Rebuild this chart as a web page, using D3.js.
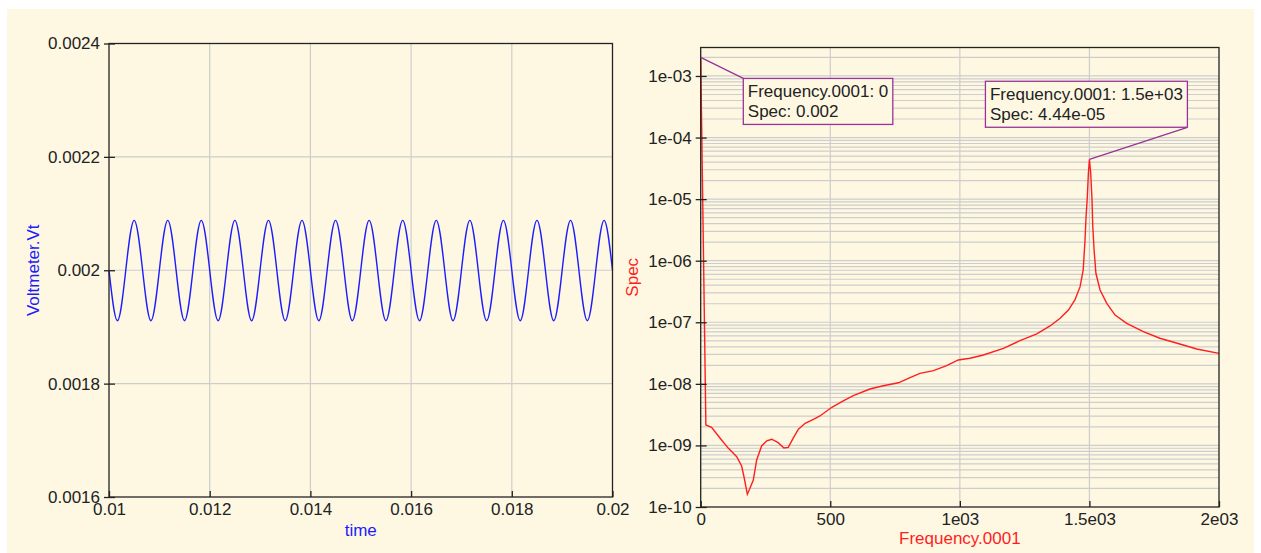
<!DOCTYPE html>
<html>
<head>
<meta charset="utf-8">
<script src="https://cdn.jsdelivr.net/npm/d3@7"></script>
<style>
body { margin: 0; background: #ffffff; }
svg text { font-family: "Liberation Sans", Arial, sans-serif; }
</style>
</head>
<body>
<div id="container"></div>
<script>
console.log('[START SEQ]')

// --- left panel : Voltmeter.Vt against time (quarter-period samples)
var time_s = [
  0.01, 0.010167, 0.010333, 0.0105,
  0.010667, 0.010833, 0.011, 0.011167,
  0.011333, 0.0115, 0.011667, 0.011833,
  0.012, 0.012167, 0.012333, 0.0125,
  0.012667, 0.012833, 0.013, 0.013167,
  0.013333, 0.0135, 0.013667, 0.013833,
  0.014, 0.014167, 0.014333, 0.0145,
  0.014667, 0.014833, 0.015, 0.015167,
  0.015333, 0.0155, 0.015667, 0.015833,
  0.016, 0.016167, 0.016333, 0.0165,
  0.016667, 0.016833, 0.017, 0.017167,
  0.017333, 0.0175, 0.017667, 0.017833,
  0.018, 0.018167, 0.018333, 0.0185,
  0.018667, 0.018833, 0.019, 0.019167,
  0.019333, 0.0195, 0.019667, 0.019833,
  0.02
];
var volt_v = [
  0.002, 0.001911, 0.002, 0.002088,
  0.002, 0.001911, 0.002, 0.002088,
  0.002, 0.001911, 0.002, 0.002088,
  0.002, 0.001911, 0.002, 0.002088,
  0.002, 0.001911, 0.002, 0.002088,
  0.002, 0.001911, 0.002, 0.002088,
  0.002, 0.001911, 0.002, 0.002088,
  0.002, 0.001911, 0.002, 0.002088,
  0.002, 0.001911, 0.002, 0.002088,
  0.002, 0.001911, 0.002, 0.002088,
  0.002, 0.001911, 0.002, 0.002088,
  0.002, 0.001911, 0.002, 0.002088,
  0.002, 0.001911, 0.002, 0.002088,
  0.002, 0.001911, 0.002, 0.002088,
  0.002, 0.001911, 0.002, 0.002088,
  0.002
];
var time_ticks = [0.01, 0.012, 0.014, 0.016, 0.018, 0.02];
var time_labels = ["0.01", "0.012", "0.014", "0.016", "0.018", "0.02"];
var volt_ticks = [0.0016, 0.0018, 0.002, 0.0022, 0.0024];
var volt_labels = ["0.0016", "0.0018", "0.002", "0.0022", "0.0024"];

// --- right panel : Spec against Frequency.0001
var freq_hz = [
  0, 20, 42, 75, 107, 126, 139, 158, 167, 180, 190, 203, 216, 235, 255, 274,
  299, 321, 338, 357, 377, 403, 435, 460, 506, 550, 589, 653, 705, 763, 801,
  846, 898, 949, 994, 1039, 1091, 1168, 1232, 1297, 1348, 1387, 1419, 1444,
  1464, 1476, 1483, 1487, 1492, 1496, 1500, 1505, 1510, 1513, 1518, 1525,
  1541, 1567, 1599, 1644, 1708, 1772, 1862, 1914, 2000
];
var spec_v = [
  2e-3, 2.15e-9, 1.97e-9, 1.31e-9, 8.97e-10, 7.44e-10, 6.56e-10, 4.63e-10,
  3.1e-10, 1.61e-10, 2.01e-10, 2.74e-10, 5.8e-10, 9.8e-10, 1.19e-9, 1.26e-9,
  1.11e-9, 9.1e-10, 9.3e-10, 1.31e-9, 1.83e-9, 2.29e-9, 2.66e-9, 3.01e-9,
  4.16e-9, 5.27e-9, 6.43e-9, 8.25e-9, 9.33e-9, 1.04e-8, 1.23e-8, 1.48e-8,
  1.64e-8, 1.97e-8, 2.44e-8, 2.6e-8, 2.94e-8, 3.78e-8, 5.02e-8, 6.46e-8,
  8.71e-8, 1.16e-7, 1.58e-7, 2.3e-7, 3.79e-7, 7.07e-7, 2.17e-6, 5.19e-6,
  1.1e-5, 2.63e-5, 4.44e-5, 2.63e-5, 9.7e-6, 3.56e-6, 1.49e-6, 6.25e-7,
  3.34e-7, 2.03e-7, 1.31e-7, 9.62e-8, 7.03e-8, 5.5e-8, 4.28e-8, 3.68e-8,
  3.13e-8
];
var freq_ticks = [0, 500, 1000, 1500, 2000];
var freq_labels = ["0", "500", "1e03", "1.5e03", "2e03"];
var spec_ticks = [1e-10, 1e-9, 1e-8, 1e-7, 1e-6, 1e-5, 1e-4, 1e-3];
var spec_labels = ["1e-10", "1e-09", "1e-08", "1e-07", "1e-06", "1e-05", "1e-04", "1e-03"];

// marker call-outs
var marker_freq = [0, 1500];
var marker_spec = [0.002, 4.44e-5];
var marker_text = [
  ["Frequency.0001: 0", "Spec: 0.002"],
  ["Frequency.0001: 1.5e+03", "Spec: 4.44e-05"]
];

var W = 1261, H = 553;
var bg = "#fef8e2";
var grid = "#cdcdcd";
var ink = "#222222";
var blue = "#1c1cff";
var red = "#ff1e1e";
var purple = "#993399";

var svg = d3.select("#container")
  .append("svg")
    .attr("width", W)
    .attr("height", H);

svg.append("rect")
  .attr("x", 7).attr("y", 9)
  .attr("width", 1247).attr("height", H - 9)
  .attr("fill", bg);

// panel frames
var L = {left: 109, right: 612.5, top: 43.5, bottom: 497};
var R = {left: 700.7, right: 1219, top: 47.5, bottom: 507};

var x1 = d3.scaleLinear().domain([0.01, 0.02]).range([L.left, L.right]);
var y1 = d3.scaleLinear().domain([0.0016, 0.0024]).range([L.bottom, L.top]);
var x2 = d3.scaleLinear().domain([0, 2000]).range([R.left, R.right]);
var y2 = d3.scaleLog().domain([1e-10, 2.9e-3]).range([R.bottom, R.top]);

function gridlines(xs, ys, xv, yv, box) {
  var g = svg.append("g").attr("stroke", grid).attr("stroke-width", 1.2);
  g.selectAll(".gx").data(xv).enter().append("line")
    .attr("x1", function (d) { return xs(d); })
    .attr("x2", function (d) { return xs(d); })
    .attr("y1", box.top).attr("y2", box.bottom);
  g.selectAll(".gy").data(yv).enter().append("line")
    .attr("x1", box.left).attr("x2", box.right)
    .attr("y1", function (d) { return ys(d); })
    .attr("y2", function (d) { return ys(d); });
}

function axes(xs, ys, xv, xl, yv, yl, box) {
  var ax = svg.append("g")
    .attr("transform", "translate(0," + box.bottom + ")")
    .call(d3.axisBottom(xs).tickValues(xv)
      .tickFormat(function (d, i) { return xl[i]; })
      .tickSizeInner(6).tickSizeOuter(0).tickPadding(0));
  ax.select(".domain").remove();
  ax.selectAll("line").attr("y2", -6).attr("stroke", ink).attr("stroke-width", 1.3);
  ax.selectAll("text").attr("fill", ink).style("font-size", "17px");

  var ay = svg.append("g")
    .attr("transform", "translate(" + box.left + ",0)")
    .call(d3.axisLeft(ys).tickValues(yv)
      .tickFormat(function (d, i) { return yl[i]; })
      .tickSizeInner(5).tickSizeOuter(0).tickPadding(4));
  ay.select(".domain").remove();
  ay.selectAll("line").attr("x1", 6).attr("stroke", ink).attr("stroke-width", 1.3);
  ay.selectAll("text").attr("fill", ink).style("font-size", "17px");
}

function frame(box) {
  svg.append("rect")
    .attr("x", box.left).attr("y", box.top)
    .attr("width", box.right - box.left).attr("height", box.bottom - box.top)
    .attr("fill", "none").attr("stroke", ink).attr("stroke-width", 1.3);
}

// ---------- left panel
gridlines(x1, y1, time_ticks.slice(1, -1), volt_ticks.slice(1, -1), L);

svg.append("path")
  .datum(d3.zip(time_s, volt_v))
  .attr("fill", "none")
  .attr("stroke", blue)
  .attr("stroke-width", 1.4)
  .attr("d", d3.line()
    .x(function (d) { return x1(d[0]); })
    .y(function (d) { return y1(d[1]); })
    .curve(d3.curveNatural));

frame(L);
axes(x1, y1, time_ticks, time_labels, volt_ticks, volt_labels, L);

svg.append("text")
  .attr("x", (L.left + L.right) / 2).attr("y", 535.5)
  .attr("text-anchor", "middle").attr("fill", blue)
  .style("font-size", "17px").text("time");
svg.append("text")
  .attr("transform", "translate(39," + (L.top + L.bottom) / 2 + ") rotate(-90)")
  .attr("text-anchor", "middle").attr("fill", blue)
  .style("font-size", "17px").text("Voltmeter.Vt");

// ---------- right panel
var minor = y2.ticks().filter(function (d) { return d > 1e-10; });
gridlines(x2, y2, freq_ticks.slice(1, -1), minor, R);

svg.append("path")
  .datum(d3.zip(freq_hz, spec_v))
  .attr("fill", "none")
  .attr("stroke", red)
  .attr("stroke-width", 1.4)
  .attr("d", d3.line()
    .x(function (d) { return x2(d[0]); })
    .y(function (d) { return y2(d[1]); }));

frame(R);
axes(x2, y2, freq_ticks, freq_labels, spec_ticks, spec_labels, R);

svg.append("text")
  .attr("x", (R.left + R.right) / 2).attr("y", 544)
  .attr("text-anchor", "middle").attr("fill", red)
  .style("font-size", "17px").text("Frequency.0001");
svg.append("text")
  .attr("transform", "translate(638," + (R.top + R.bottom) / 2 + ") rotate(-90)")
  .attr("text-anchor", "middle").attr("fill", red)
  .style("font-size", "17px").text("Spec");

// ---------- marker call-outs
// box offset from the marked point, and which corner the leader goes to
var box_dx = [42.6, -104];
var box_dy = [21, -78];
var corner = ["tl", "br"];

var leaders = svg.append("g");

marker_freq.forEach(function (f, i) {
  var px = x2(f), py = y2(marker_spec[i]);
  var g = svg.append("g");
  var rect = g.append("rect")
    .attr("fill", bg).attr("stroke", purple).attr("stroke-width", 1.3);
  var bx = px + box_dx[i], by = py + box_dy[i];
  var texts = marker_text[i].map(function (t, k) {
    return g.append("text")
      .attr("x", bx + 4.5).attr("y", by + 18.5 + 20 * k)
      .attr("fill", ink).style("font-size", "17px").text(t);
  });
  var wmax = d3.max(texts, function (t) { return t.node().getComputedTextLength(); });
  var bw = wmax + 9, bh = 46;
  rect.attr("x", bx).attr("y", by).attr("width", bw).attr("height", bh);
  var cx = corner[i] == "tl" ? bx : bx + bw;
  var cy = corner[i] == "tl" ? by : by + bh;
  leaders.append("line")
    .attr("x1", px).attr("y1", py).attr("x2", cx).attr("y2", cy)
    .attr("stroke", purple).attr("stroke-width", 1.3);
});

console.log('[END SEQ]')
</script>
</body>
</html>
